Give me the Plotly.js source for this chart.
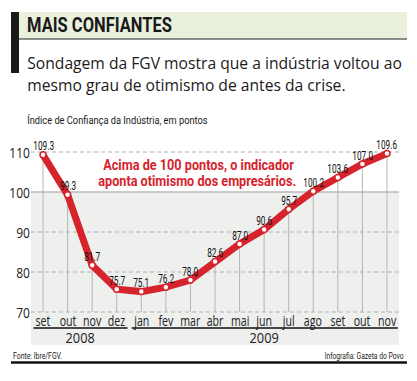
<!DOCTYPE html>
<html><head><meta charset="utf-8">
<script src="https://cdn.plot.ly/plotly-3.0.1.min.js"></script>
<style>html,body{margin:0;padding:0;background:#fff;}#chart{width:417px;height:381px;}</style>
</head><body><div id="chart"></div>
<script>
var months = ['set','out','nov','dez','jan','fev','mar','abr','mai','jun','jul','ago','set','out','nov'];
var values = [109.3, 99.3, 81.7, 75.7, 75.1, 76.2, 78.0, 82.6, 87.0, 90.6, 95.7, 100.2, 103.6, 107.0, 109.6];
var years = ['2008', '2009'];
var yearSpans = [[0, 3], [4, 14]];
var yTicks = [70, 80, 90, 100, 110];

var idx = months.map(function(_, i){ return i; });
var red = '#d6232c';
var cond = 'Roboto, "Liberation Sans", sans-serif';
var open = '"Open Sans", sans-serif';
var base = 70;

var traces = [
  { // drop lines
    x: idx, y: values, type: 'scatter', mode: 'none', hoverinfo: 'skip', showlegend: false,
    error_y: { type: 'data', symmetric: false, array: values.map(function(){return 0;}),
      arrayminus: values.map(function(v){ return v - base; }), width: 0, thickness: 1, color: '#b4b4b4' }
  },
  {
    x: idx, y: values, type: 'scatter', mode: 'lines+markers', showlegend: false,
    line: { color: red, width: 7 },
    marker: { size: 6, color: '#ffffff', line: { color: red, width: 1.5 } }
  }
];

function px(xp){ return (xp - 31) / 368; }
function py(yp){ return (381 - 36 - yp) / 213; }

var ann = [];
var fits = []; // [annotation index, mode, value, origin]
function addAnn(a, fit){ ann.push(a); if (fit) fits.push([ann.length - 1].concat(fit)); }

values.forEach(function(v, i){
  addAnn({ x: i, y: v, xref: 'x', yref: 'y', text: v.toFixed(1), showarrow: false,
    yshift: 9, font: { family: cond, size: 12.5, color: '#111' } }, ['scale', 0.66, 'center']);
});
months.forEach(function(m, i){
  addAnn({ x: i, y: 67.9, xref: 'x', yref: 'y', text: m, showarrow: false,
    font: { family: open, size: 14, color: '#222' } }, ['scale', 0.76, 'center']);
});
yTicks.forEach(function(t){
  addAnn({ x: 0, y: t, xref: 'paper', yref: 'y', xanchor: 'right', xshift: 1, text: String(t), showarrow: false,
    font: { family: open, size: 14, color: '#222' } }, ['scale', 0.86, 'right']);
});
var shapes = [
  { type: 'rect', xref: 'paper', yref: 'y', x0: 0, x1: 1, y0: 61.75, y1: 100, fillcolor: '#eef0ee', line: { width: 0 }, layer: 'below' },
  { type: 'line', xref: 'paper', yref: 'y', x0: 0, x1: 1, y0: 100, y1: 100, line: { color: '#9a9a9a', width: 1.2 }, layer: 'below' }
];
[70, 80, 90, 110].forEach(function(t){
  shapes.push({ type: 'line', xref: 'paper', yref: 'y', x0: 0, x1: 1, y0: t, y1: t,
    line: { color: '#b0b0b0', width: 1, dash: '4px,3px' }, layer: 'below' });
});
years.forEach(function(yr, k){
  var a = yearSpans[k][0], b = yearSpans[k][1];
  shapes.push({ type: 'line', xref: 'x', yref: 'y', x0: a - 0.39, x1: b + 0.44, y0: 66, y1: 66,
    line: { color: '#111', width: 1.5 } });
  addAnn({ x: (a + b) / 2, y: 63.7, xref: 'x', yref: 'y', text: yr, showarrow: false,
    font: { family: open, size: 15, color: '#222' } }, ['scale', 0.85, 'center']);
});

// header & notes
addAnn({ xref: 'paper', yref: 'paper', x: px(25), y: py(25), xanchor: 'left', yanchor: 'middle',
  text: '<b>MAIS CONFIANTES</b>', showarrow: false, font: { family: cond, size: 20.5, color: '#1a1a1a', weight: 900 } }, ['width', 145, 'left']);
addAnn({ xref: 'paper', yref: 'paper', x: px(25), y: py(62.5), xanchor: 'left', yanchor: 'middle',
  text: 'Sondagem da FGV mostra que a indústria voltou ao', showarrow: false,
  font: { family: open, size: 17, color: '#1a1a1a' } }, ['width', 375, 'left']);
addAnn({ xref: 'paper', yref: 'paper', x: px(25), y: py(85), xanchor: 'left', yanchor: 'middle',
  text: 'mesmo grau de otimismo de antes da crise.', showarrow: false,
  font: { family: open, size: 17, color: '#1a1a1a' } }, ['same', 0, 'left']);
addAnn({ xref: 'paper', yref: 'paper', x: px(25), y: py(120), xanchor: 'left', yanchor: 'middle',
  text: 'Índice de Confiança da Indústria, em pontos', showarrow: false, font: { family: cond, size: 11, color: '#1a1a1a' } }, ['width', 181, 'left']);
addAnn({ xref: 'paper', yref: 'paper', x: px(198.5), y: py(164.5), xanchor: 'center', yanchor: 'middle',
  text: '<b>Acima de 100 pontos, o indicador</b>', showarrow: false,
  font: { family: cond, size: 15.5, color: red } }, ['width', 191, 'center']);
addAnn({ xref: 'paper', yref: 'paper', x: px(197), y: py(181), xanchor: 'center', yanchor: 'middle',
  text: '<b>aponta otimismo dos empresários.</b>', showarrow: false,
  font: { family: cond, size: 15.5, color: red } }, ['width', 198, 'center']);
addAnn({ xref: 'paper', yref: 'paper', x: px(11), y: py(355), xanchor: 'left', yanchor: 'middle',
  text: 'Fonte: Ibre/FGV.', showarrow: false, font: { family: cond, size: 9.5, color: '#1a1a1a' } }, ['width', 49, 'left']);
addAnn({ xref: 'paper', yref: 'paper', x: px(406), y: py(355), xanchor: 'right', yanchor: 'middle',
  text: 'Infografia: Gazeta do Povo', showarrow: false, font: { family: cond, size: 9.5, color: '#1a1a1a' } }, ['width', 79, 'right']);

shapes.push({ type: 'rect', xref: 'paper', yref: 'paper', x0: px(19), x1: px(407), y0: py(39), y1: py(12), fillcolor: '#e9f0dc', line: { width: 0 } });
shapes.push({ type: 'rect', xref: 'paper', yref: 'paper', x0: px(11), x1: px(19), y0: py(73), y1: py(12), fillcolor: '#1a1a1a', line: { width: 0 } });
shapes.push({ type: 'line', xref: 'paper', yref: 'paper', x0: px(19), x1: px(407), y0: py(39), y1: py(39), line: { color: '#222', width: 1.2 } });
shapes.push({ type: 'line', xref: 'paper', yref: 'paper', x0: px(11), x1: px(407), y0: py(362.5), y1: py(362.5), line: { color: '#111', width: 2.5 } });

var layout = {
  width: 417, height: 381,
  margin: { l: 31, r: 18, t: 132, b: 36 },
  paper_bgcolor: '#ffffff', plot_bgcolor: 'rgba(0,0,0,0)',
  showlegend: false,
  xaxis: { range: [-0.49, 14.49], showgrid: false, zeroline: false, showticklabels: false, showline: false, ticks: '', fixedrange: true },
  yaxis: { range: [61.75, 115], showgrid: false, zeroline: false, showline: false, showticklabels: false, ticks: '' },
  shapes: shapes, annotations: ann
};

function squeeze(el, s, origin){
  el.style.transformBox = 'fill-box';
  el.style.transformOrigin = origin + ' center';
  el.style.transform = 'scaleX(' + s + ')';
}
Plotly.newPlot('chart', traces, layout, { displayModeBar: false, staticPlot: true }).then(function(gd){
  var last = 1;
  fits.forEach(function(f){
    var t = gd.querySelector('.annotation[data-index="' + f[0] + '"] text.annotation-text');
    if (!t) return;
    var s;
    if (f[1] === 'scale') s = f[2];
    else if (f[1] === 'same') s = last;
    else { var w = t.getBBox().width; s = w > 0 ? f[2] / w : 1; }
    last = s;
    squeeze(t, s, f[3]);
  });
});
</script></body></html>
